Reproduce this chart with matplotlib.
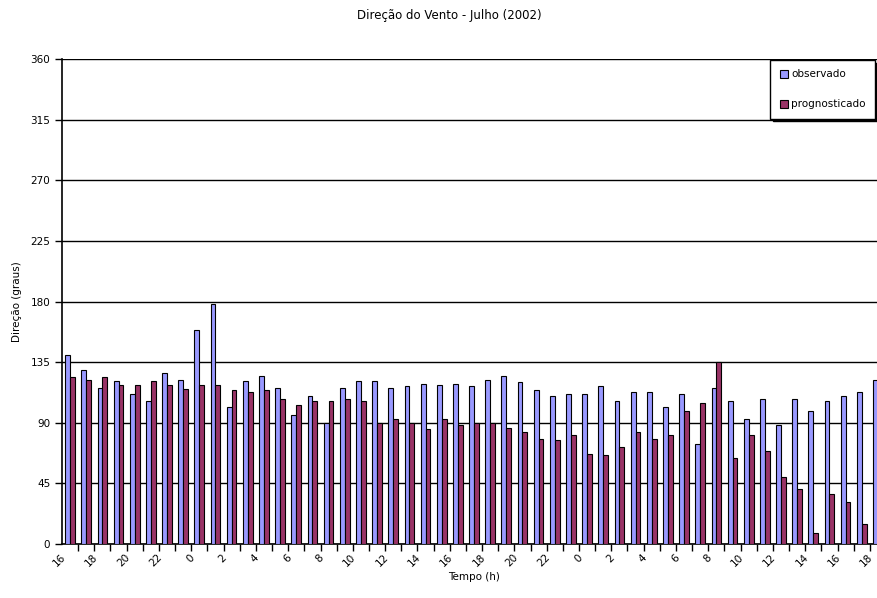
import numpy as np
import matplotlib
matplotlib.use("Agg")
import matplotlib.pyplot as plt
import matplotlib.transforms as mtransforms

# ============================================
# Data
# ============================================
hours = list(range(16, 24)) + list(range(0, 24)) + list(range(0, 19))

observado = [140, 129, 116, 121, 111, 106, 127, 122, 159, 178,
             102, 121, 125, 116, 96, 110, 90, 116, 121, 121,
             116, 117, 119, 118, 119, 117, 122, 125, 120, 114,
             110, 111, 111, 117, 106, 113, 113, 102, 111, 74,
             116, 106, 93, 108, 88, 108, 99, 106, 110, 113, 122]

prognosticado = [124, 122, 124, 118, 118, 121, 118, 115, 118, 118,
                 114, 113, 114, 108, 103, 106, 106, 108, 106, 90,
                 93, 90, 85, 93, 88, 90, 90, 86, 83, 78,
                 77, 81, 67, 66, 72, 83, 78, 81, 99, 105,
                 135, 64, 81, 69, 50, 41, 8, 37, 31, 15, 5]

labels = ['observado', 'prognosticado']
colors = ['#9999FF', '#993366']

# ============================================
# Figure
# ============================================
plt.rcParams['font.family'] = ['DejaVu Sans']

fig = plt.figure(figsize=(8.78, 5.98), dpi=100)
ax = fig.add_axes([62 / 878, 54 / 598, 824 / 878, 485 / 598])

x = np.arange(len(hours))
w = 0.3
ax.bar(x - w / 2, observado, width=w, color=colors[0], edgecolor='black',
       linewidth=0.8, label=labels[0], zorder=3)
ax.bar(x + w / 2, prognosticado, width=w, color=colors[1], edgecolor='black',
       linewidth=0.8, label=labels[1], zorder=3)

ax.set_xlim(-0.5, len(hours) - 0.5)
ax.set_ylim(0, 360)
ax.set_yticks(np.arange(0, 361, 45))
ax.yaxis.grid(True, color='black', linewidth=1.0, zorder=1)
ax.tick_params(axis='y', labelsize=7.5, length=5, width=1, direction='out')

# category boundary ticks, labels every 2 hours
ax.set_xticks(x[::2])
ax.set_xticklabels([str(h) for h in hours[::2]], rotation=45, ha='right',
                   rotation_mode='anchor', fontsize=7.5)
ax.tick_params(axis='x', length=0, pad=6)
ax.set_xticks(np.arange(len(hours)) + 0.5, minor=True)
ax.tick_params(axis='x', which='minor', length=5, width=1, direction='out')

# nudge the rotated labels to the left, like the original
shift = mtransforms.ScaledTranslation(-0.1, 0, fig.dpi_scale_trans)
for lab in ax.get_xticklabels():
    lab.set_transform(lab.get_transform() + shift)

for s in ['top', 'right']:
    ax.spines[s].set_visible(False)
ax.spines['left'].set_linewidth(1.2)
ax.spines['bottom'].set_linewidth(1.2)

ax.set_ylabel('Direção (graus)', fontsize=7.5, labelpad=6)
ax.set_xlabel('Tempo (h)', fontsize=7.5, labelpad=2)
fig.text(449 / 878, 1 - 15 / 598, 'Direção do Vento - Julho (2002)',
         ha='center', va='center', fontsize=8.5)

leg = ax.legend(loc='upper right', bbox_to_anchor=(875 / 878, 1 - 60 / 598),
                bbox_transform=fig.transFigure, borderaxespad=0,
                fontsize=7.5, handlelength=0.8, handleheight=0.8,
                handletextpad=0.3, labelspacing=1.9, borderpad=0.9,
                fancybox=False, framealpha=1, edgecolor='black',
                shadow={'color': 'black', 'alpha': 1, 'ox': 2, 'oy': -2})
leg.get_frame().set_linewidth(1.0)
leg.set_zorder(5)

plt.savefig('out.png', dpi=100)
